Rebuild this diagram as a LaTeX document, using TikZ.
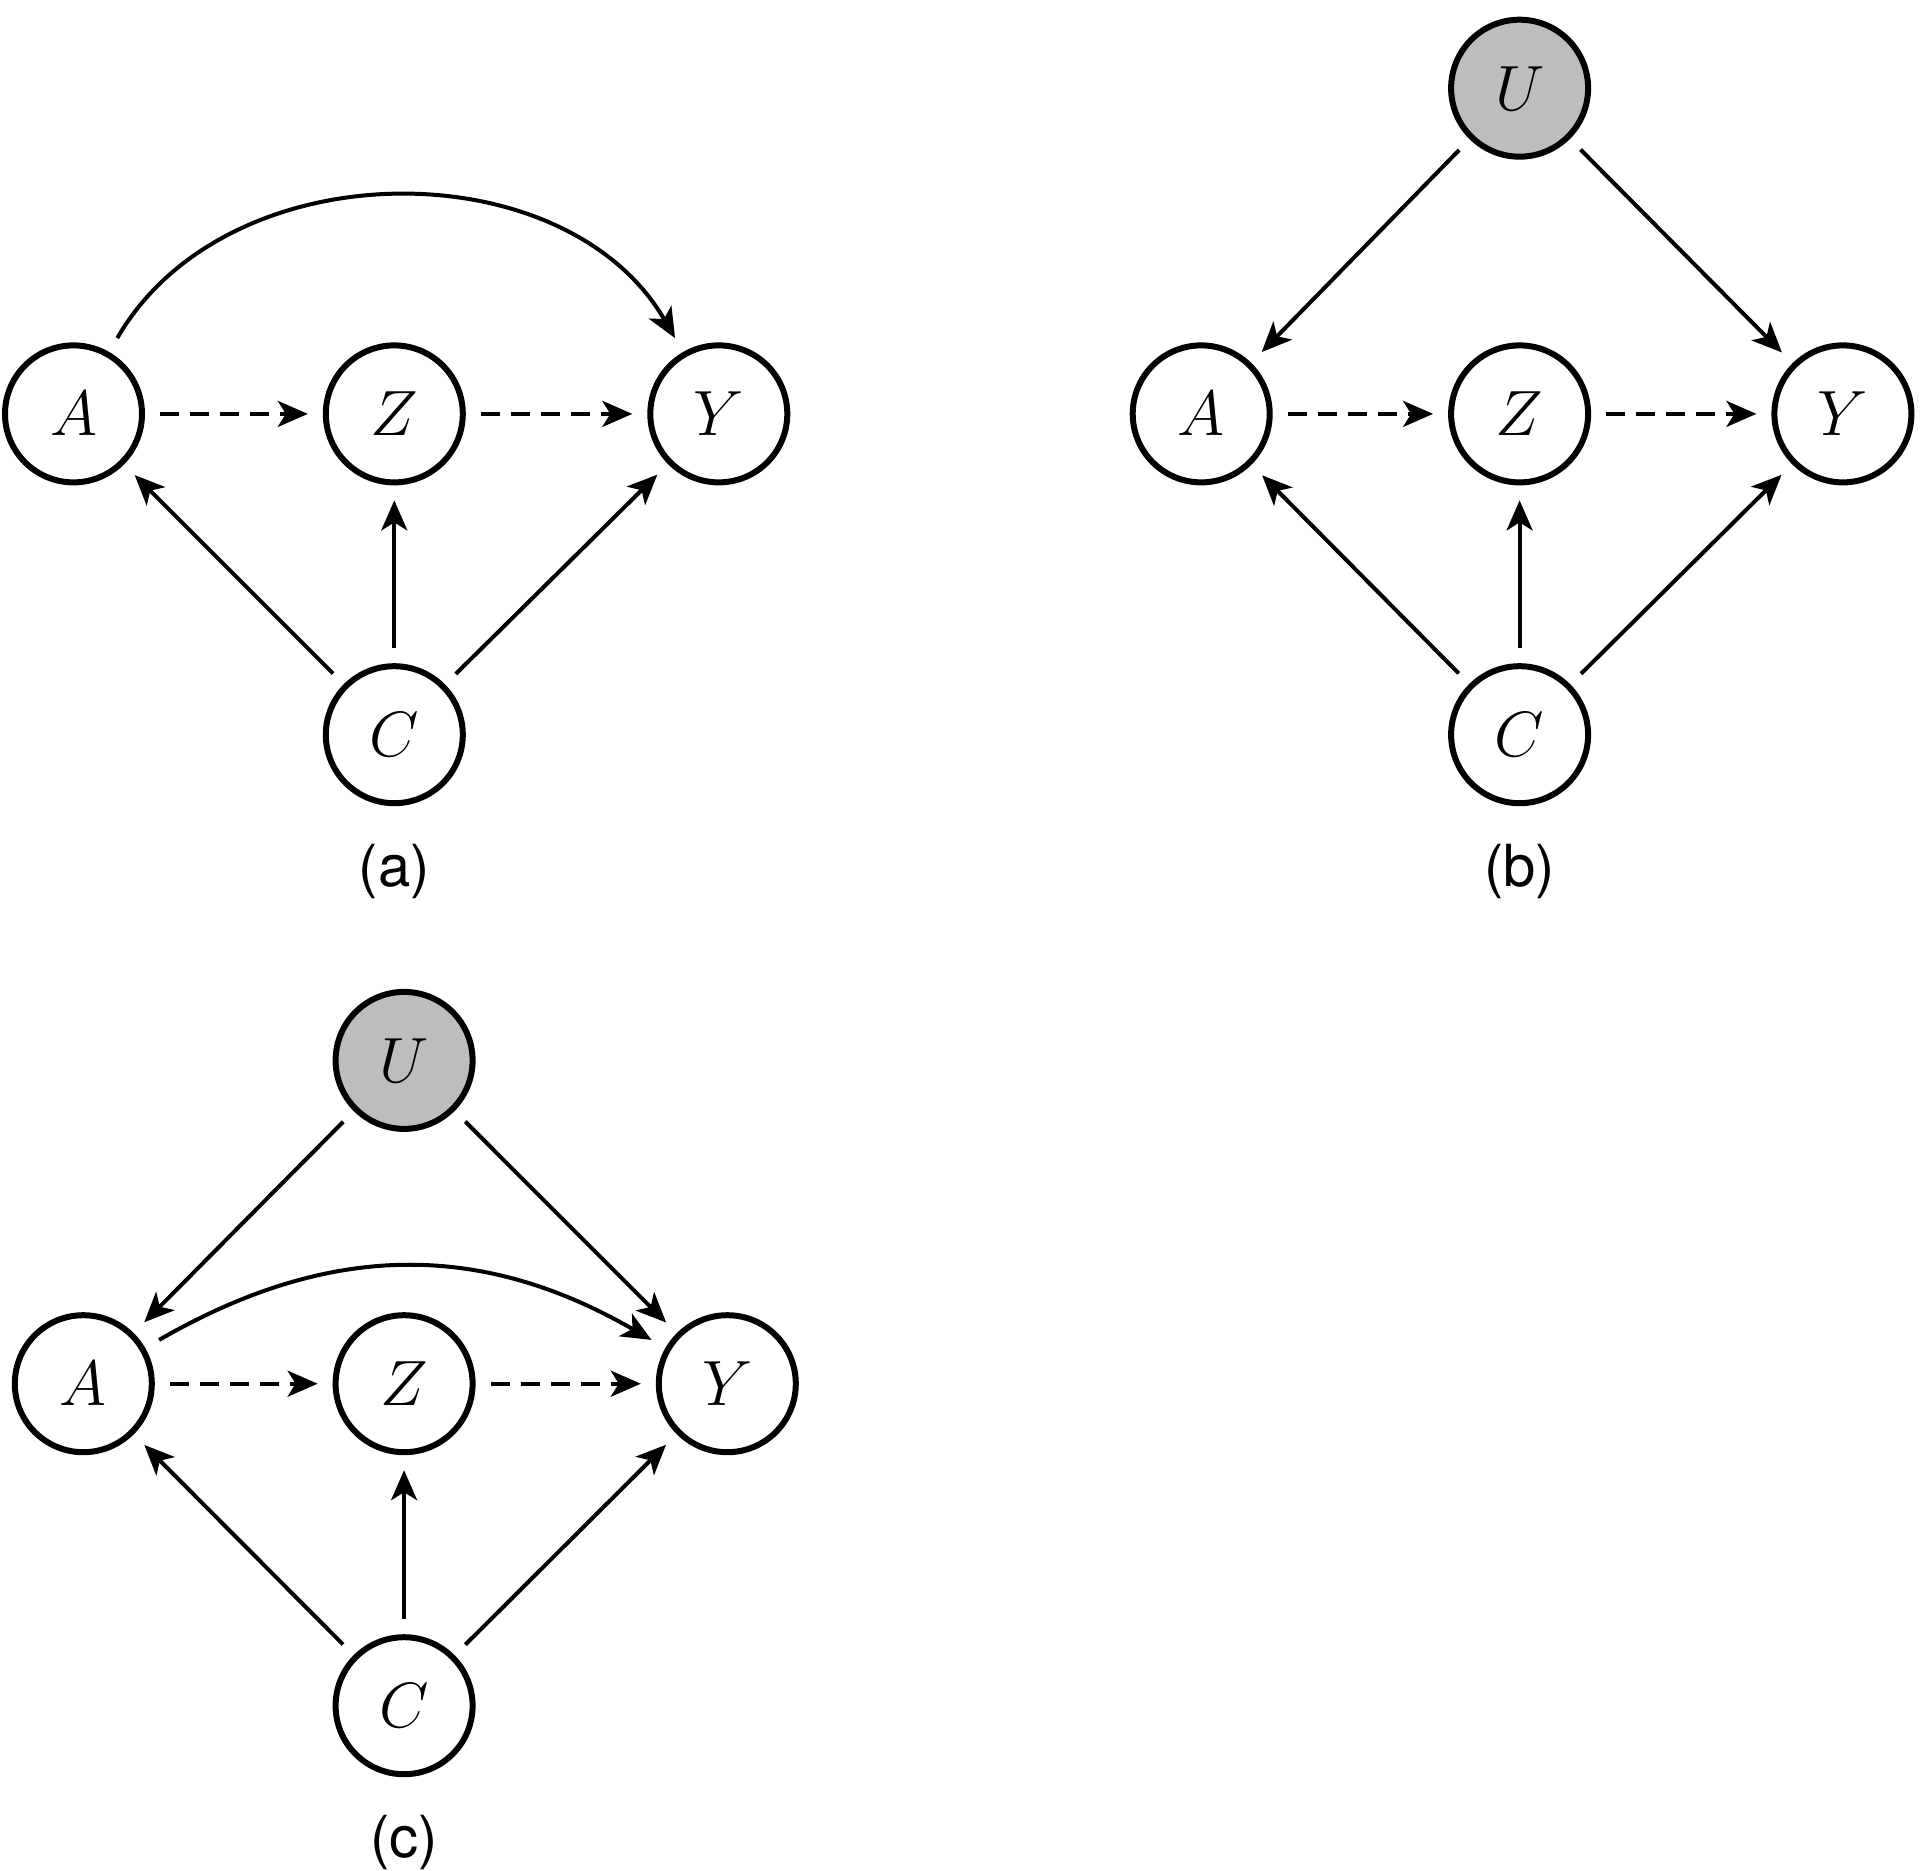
\RequirePackage{fix-cm}
\documentclass[tikz,border=0pt]{standalone}
\usepackage{fontspec}
\newfontfamily\panelfont{TeX Gyre Heros}
\usetikzlibrary{arrows.meta}
\definecolor{latentgray}{HTML}{BDBDBD}
\tikzset{
  var/.style={circle, draw, line width=3pt, minimum size=68.5pt, inner sep=0pt,
    font=\fontsize{32}{38}\selectfont},
  latent/.style={var, fill=latentgray},
  arr/.style={line width=2pt, -{Stealth[length=15pt,width=13pt,inset=4pt]},
    shorten >=7.5pt, shorten <=7.5pt},
  darr/.style={arr, dash pattern=on 9.5pt off 5.5pt},
  carr/.style={arr, shorten >=8pt, shorten <=8pt},
  panel/.style={font=\panelfont\fontsize{29}{34}\selectfont, inner sep=0pt}
}
\begin{document}
\begin{tikzpicture}[x=0.5pt, y=-0.5pt]
\path[use as bounding box] (0,0) rectangle (1920,1871);

% ---------- panel (a)
\node[var] (aA) at (73.5,413.9) {$A$};
\node[var] (aZ) at (394.3,413.9) {$Z$};
\node[var] (aY) at (718.8,413.9) {$Y$};
\node[var] (aC) at (394.3,734.7) {$C$};
\node[panel] (alab) at (394.3,871.8) {(a)};
\draw[darr] (aA) -- (aZ);
\draw[darr] (aZ) -- (aY);
\draw[arr] (aC) -- (aA);
\draw[arr] (aC) -- (aZ);
\draw[arr] (aC) -- (aY);
\draw[carr] (aA) to[out=60,in=120,looseness=1.05] (aY);

% ---------- panel (b)
\node[latent] (bU) at (1519.6,88.2) {$U$};
\node[var] (bA) at (1201.2,413.9) {$A$};
\node[var] (bZ) at (1519.6,413.9) {$Z$};
\node[var] (bY) at (1842.9,413.9) {$Y$};
\node[var] (bC) at (1519.6,734.7) {$C$};
\node[panel] (blab) at (1519.6,871.8) {(b)};
\draw[darr] (bA) -- (bZ);
\draw[darr] (bZ) -- (bY);
\draw[arr] (bC) -- (bA);
\draw[arr] (bC) -- (bZ);
\draw[arr] (bC) -- (bY);
\draw[arr] (bU) -- (bA);
\draw[arr] (bU) -- (bY);

% ---------- panel (c)
\node[latent] (cU) at (404.1,1060.4) {$U$};
\node[var] (cA) at (83.3,1383.7) {$A$};
\node[var] (cZ) at (404.1,1383.7) {$Z$};
\node[var] (cY) at (727.3,1383.7) {$Y$};
\node[var] (cC) at (404.1,1705.7) {$C$};
\node[panel] (clab) at (404.1,1842.8) {(c)};
\draw[darr] (cA) -- (cZ);
\draw[darr] (cZ) -- (cY);
\draw[arr] (cC) -- (cA);
\draw[arr] (cC) -- (cZ);
\draw[arr] (cC) -- (cY);
\draw[arr] (cU) -- (cA);
\draw[arr] (cU) -- (cY);
\draw[carr] (cA) to[out=30,in=150,looseness=1.05] (cY);
\end{tikzpicture}
\end{document}
